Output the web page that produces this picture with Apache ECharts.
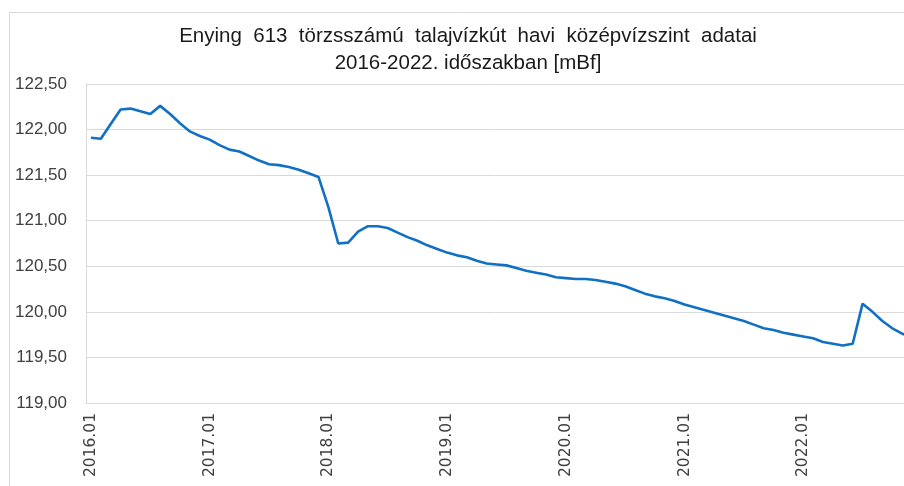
<!DOCTYPE html>
<html>
<head>
<meta charset="utf-8">
<title>Enying 613</title>
<script src="https://cdn.jsdelivr.net/npm/echarts@6/dist/echarts.min.js"></script>
<style>
  html, body { margin: 0; padding: 0; background: #fff; }
  #lineChart { width: 904px; height: 486px; }
</style>
</head>
<body>
<div id="lineChart"></div>
<script>
// havi idopontok 2016.01 - 2022.12
let years = ['2016', '2017', '2018', '2019', '2020', '2021', '2022'];
let months = [];
years.forEach(y => {
  for (let m = 1; m <= 12; m++) {
    months.push(y + '.' + (m < 10 ? '0' + m : m));
  }
});

// kozepvizszint [mBf]
let level2016 = [121.91, 121.90, 122.06, 122.22, 122.23, 122.20, 122.17, 122.26, 122.17, 122.07, 121.98, 121.93];
let level2017 = [121.89, 121.83, 121.78, 121.76, 121.71, 121.66, 121.62, 121.61, 121.59, 121.56, 121.52, 121.48];
let level2018 = [121.15, 120.75, 120.76, 120.88, 120.94, 120.94, 120.92, 120.87, 120.82, 120.78, 120.73, 120.69];
let level2019 = [120.65, 120.62, 120.60, 120.56, 120.53, 120.52, 120.51, 120.48, 120.45, 120.43, 120.41, 120.38];
let level2020 = [120.37, 120.36, 120.36, 120.35, 120.33, 120.31, 120.28, 120.24, 120.20, 120.17, 120.15, 120.12];
let level2021 = [120.08, 120.05, 120.02, 119.99, 119.96, 119.93, 119.90, 119.86, 119.82, 119.80, 119.77, 119.75];
let level2022 = [119.73, 119.71, 119.67, 119.65, 119.63, 119.65, 120.09, 120.00, 119.90, 119.82, 119.76, 119.72];
let levels = [].concat(level2016, level2017, level2018, level2019, level2020, level2021, level2022);

let yTicks = { min: 119, max: 122.5, step: 0.5 };

let gray = '#d9d9d9';
let textColor = '#404040';

let option = {
  animation: false,
  title: {
    text: 'Enying  613  törzsszámú  talajvízkút  havi  középvízszint  adatai\n2016-2022. időszakban [mBf]',
    left: 463,
    top: 18,
    textAlign: 'center',
    textStyle: {
      color: '#1a1a1a',
      fontSize: 20.5,
      fontWeight: 'normal',
      fontFamily: 'Liberation Sans',
      lineHeight: 27
    }
  },
  graphic: [{
    type: 'rect',
    shape: { x: 9.5, y: 12.5, width: 1000, height: 1000 },
    style: { fill: 'none', stroke: gray, lineWidth: 1 },
    silent: true
  }],
  grid: {
    left: 86,
    top: 84,
    width: 831,
    bottom: 83,
    outerBoundsMode: 'none'
  },
  xAxis: {
    type: 'category',
    boundaryGap: true,
    data: months,
    axisLine: { lineStyle: { color: gray, width: 1 } },
    axisTick: { show: false },
    axisLabel: {
      interval: 11,
      rotate: 90,
      margin: 10,
      color: textColor,
      fontSize: 15.5,
      fontFamily: 'DejaVu Sans'
    },
    splitLine: { show: false }
  },
  yAxis: {
    type: 'value',
    min: yTicks.min,
    max: yTicks.max,
    interval: yTicks.step,
    axisLine: { show: true, lineStyle: { color: gray, width: 1 } },
    axisTick: { show: false },
    axisLabel: {
      margin: 19,
      color: textColor,
      fontSize: 17,
      fontFamily: 'Liberation Sans Narrow, Liberation Sans',
      formatter: v => v.toFixed(2).replace('.', ',')
    },
    splitLine: { lineStyle: { color: gray, width: 1 } }
  },
  series: [{
    name: 'középvízszint',
    type: 'line',
    data: levels,
    symbol: 'none',
    smooth: false,
    lineStyle: { color: '#1170c4', width: 2.6 }
  }]
};

let lineChart = echarts.init(document.getElementById('lineChart'));
lineChart.setOption(option);
</script>
</body>
</html>
